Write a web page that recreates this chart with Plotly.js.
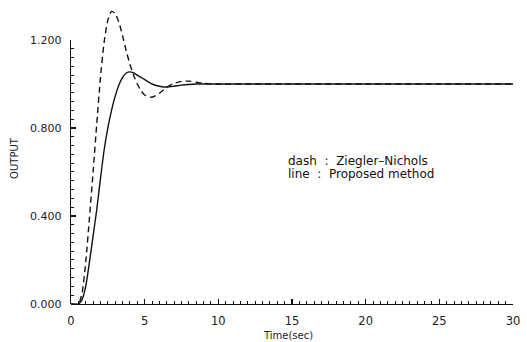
<!DOCTYPE html>
<html>
<head>
<meta charset="utf-8">
<script src="https://cdn.plot.ly/plotly-3.0.1.min.js"></script>
<style>html,body{margin:0;padding:0;background:#fff;}#chart{width:527px;height:342px;}</style>
</head>
<body>
<div id="chart"></div>
<script>
const time = [0,0.5,0.75,1,1.25,1.5,1.75,2,2.25,2.5,2.75,3,3.25,3.5,3.75,4,4.25,4.5,4.75,5,5.5,6,6.5,7,7.5,8,8.5,9,10,12,15,20,25,30];
const zieglerNichols = [0,0,0.05,0.19,0.39,0.6,0.82,1.03,1.19,1.29,1.33,1.32,1.28,1.22,1.15,1.09,1.04,1.0,0.97,0.95,0.94,0.958,0.985,1.003,1.012,1.013,1.008,1.003,0.999,1,1,1,1,1];
const proposed = [0,0,0.02,0.08,0.19,0.31,0.43,0.57,0.7,0.8,0.88,0.945,0.995,1.03,1.05,1.055,1.05,1.04,1.03,1.02,1.0,0.99,0.986,0.99,0.995,0.998,1.0,1.0,1.0,1,1,1,1,1];
const xTitle = 'Time(sec)';
const yTitle = 'OUTPUT';
const legendLines = ['dash\u00a0\u00a0:\u00a0\u00a0Ziegler\u2013Nichols', 'line\u00a0\u00a0:\u00a0\u00a0Proposed method'];

const yMax = 1.359;
const yAxisTop = 1.2;
const font = {family: 'DejaVu Sans, sans-serif', size: 11, color: '#222'};

const traces = [
  {x: [0], y: [0], type: 'scatter', mode: 'markers', xaxis: 'x', yaxis: 'y2',
   marker: {opacity: 0}, hoverinfo: 'skip'},
  {x: time, y: zieglerNichols, type: 'scatter', mode: 'lines', xaxis: 'x', yaxis: 'y',
   line: {color: '#111', width: 1.4, dash: '6px,4px', shape: 'spline', smoothing: 0.6}, hoverinfo: 'skip'},
  {x: time, y: proposed, type: 'scatter', mode: 'lines', xaxis: 'x', yaxis: 'y',
   line: {color: '#111', width: 1.4, shape: 'spline', smoothing: 0.6}, hoverinfo: 'skip'}
];

const layout = {
  width: 527, height: 342,
  margin: {l: 71, r: 14, t: 5, b: 38},
  paper_bgcolor: '#fff', plot_bgcolor: 'rgba(0,0,0,0)',
  showlegend: false,
  font: font,
  xaxis: {
    range: [0, 30], showgrid: false, zeroline: false,
    showline: true, linecolor: '#111', linewidth: 1.3,
    ticks: 'inside', ticklen: 5, tickwidth: 1.2, tickcolor: '#111',
    tick0: 0, dtick: 5, ticklabelstandoff: 6,
    minor: {ticks: 'inside', dtick: 0.5, ticklen: 3, tickwidth: 1, tickcolor: '#111'},
    tickfont: {family: 'DejaVu Sans, sans-serif', size: 11.5, color: '#222'},
    anchor: 'y'
  },
  yaxis: {
    range: [0, yMax], domain: [0, 1], visible: false, fixedrange: true
  },
  yaxis2: {
    range: [0, yAxisTop], domain: [0, yAxisTop / yMax], anchor: 'x',
    showgrid: false, zeroline: false,
    showline: true, linecolor: '#111', linewidth: 1.3,
    ticks: 'inside', ticklen: 5, tickwidth: 1.2, tickcolor: '#111',
    tick0: 0, dtick: 0.4, tickformat: '.3f', ticklabelstandoff: 6,
    minor: {ticks: 'inside', dtick: 0.04, ticklen: 3, tickwidth: 1, tickcolor: '#111'},
    tickfont: {family: 'DejaVu Sans, sans-serif', size: 11, color: '#222'}
  },
  annotations: [
    {text: xTitle, xref: 'paper', yref: 'paper', x: 0.49, y: -0.107, xanchor: 'center', yanchor: 'middle',
     showarrow: false, font: {family: 'DejaVu Sans, sans-serif', size: 10, color: '#222'}},
    {text: yTitle, xref: 'paper', yref: 'paper', x: -0.128, y: 0.49, xanchor: 'center', yanchor: 'middle',
     textangle: -90, showarrow: false, font: {family: 'DejaVu Sans, sans-serif', size: 10, color: '#222'}},
    {text: legendLines[0], xref: 'paper', yref: 'paper', x: 0.486, y: 0.4783, xanchor: 'left', yanchor: 'middle',
     showarrow: false, font: {family: 'DejaVu Sans, sans-serif', size: 12, color: '#111'}},
    {text: legendLines[1], xref: 'paper', yref: 'paper', x: 0.486, y: 0.4348, xanchor: 'left', yanchor: 'middle',
     showarrow: false, font: {family: 'DejaVu Sans, sans-serif', size: 12, color: '#111'}}
  ]
};

Plotly.newPlot('chart', traces, layout, {staticPlot: true, displayModeBar: false});
</script>
</body>
</html>
